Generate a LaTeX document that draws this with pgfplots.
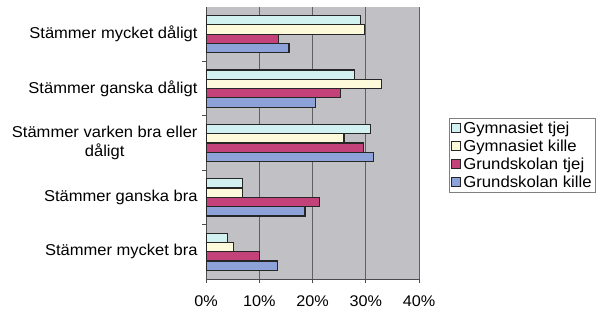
\documentclass[border=0pt]{standalone}
\usepackage{pgfplots}
\pgfplotsset{compat=1.18}
\usepackage{fontspec}
\setmainfont{Liberation Sans}[FakeStretch=1.05]
\definecolor{bggray}{RGB}{192,192,197}
\definecolor{gtjej}{RGB}{210,242,242}
\definecolor{gkille}{RGB}{252,250,218}
\definecolor{utjej}{RGB}{196,66,122}
\definecolor{ukille}{RGB}{140,162,216}
\begin{document}
\begin{tikzpicture}
\useasboundingbox (0,0) rectangle (604bp,311bp);
\begin{axis}[
  at={(206bp,32bp)}, anchor=south west,
  width=213bp, height=272bp, scale only axis,
  xbar, bar width=9.3bp,
  xmin=0, xmax=40, ymin=-0.5, ymax=4.5,
  axis background/.style={fill=bggray},
  axis x line*=bottom, axis y line*=left,
  axis line style={gray!60!black, line width=0.8bp},
  xmajorgrids, grid style={gray!75!black, line width=0.5bp},
  xtick={0,10,20,30,40},
  xticklabels={0\%,10\%,20\%,30\%,40\%},
  tick align=outside, major tick length=4bp,
  tick style={gray!60!black, line width=0.8bp},
  ytick={0.5,1.5,2.5,3.5}, yticklabels={},
  extra y ticks={0,1,2,3,4},
  extra y tick labels={Stämmer mycket bra,Stämmer ganska bra,{Stämmer varken bra eller\\dåligt},Stämmer ganska dåligt,Stämmer mycket dåligt},
  extra y tick style={major tick length=0pt},
  yticklabel style={font=\fontsize{15.8}{18.5}\selectfont, align=center, xshift=-5bp},
  xticklabel style={font=\fontsize{15.5}{18}\selectfont, yshift=-9bp},
  legend style={at={(rel axis cs:1.141,0.592)}, anchor=north west, draw=gray, line width=0.6bp,
    font=\fontsize{16}{17}\selectfont, row sep=1bp, inner xsep=2bp, inner ysep=1.5bp},
  legend cell align=left,
  legend image code/.code={\draw[#1, line width=1bp, bar shift=0pt] (0bp,-4.5bp) rectangle (9bp,4.5bp);},
  every axis plot/.append style={draw=black!85, line width=1.2bp},
]
\addplot[fill=gtjej, bar shift=13.95bp] coordinates {(4.0,0) (6.9,1) (30.9,2) (27.9,3) (29.0,4)};
\addplot[fill=gkille, bar shift=4.65bp] coordinates {(5.1,0) (6.9,1) (25.9,2) (32.9,3) (29.8,4)};
\addplot[fill=utjej, bar shift=-4.65bp] coordinates {(10.0,0) (21.3,1) (29.6,2) (25.2,3) (13.6,4)};
\addplot[fill=ukille, bar shift=-13.95bp] coordinates {(13.5,0) (18.6,1) (31.5,2) (20.5,3) (15.6,4)};
\legend{Gymnasiet tjej,Gymnasiet kille,Grundskolan tjej,Grundskolan kille}
\end{axis}
\end{tikzpicture}
\end{document}
